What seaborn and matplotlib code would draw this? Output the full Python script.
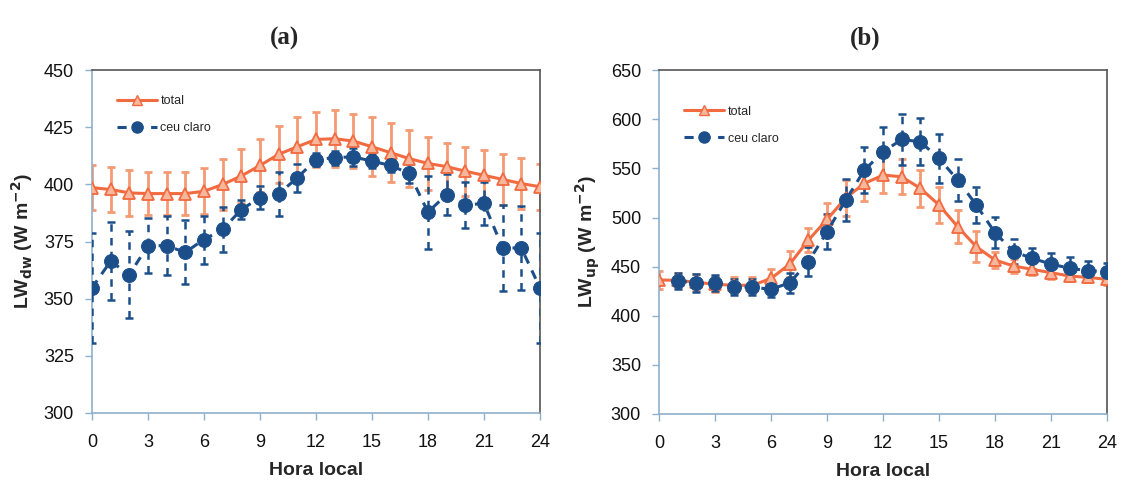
import matplotlib
matplotlib.use("Agg")
import matplotlib.pyplot as plt
import seaborn as sns
import numpy as np
import pandas as pd
from matplotlib.lines import Line2D

hours = list(range(25))

# (a) downward longwave
dw_total = [398.6, 397.8, 396.3, 396, 396, 396, 397, 400, 403.7, 408.3, 413.2, 416.5,
            419.7, 420, 419, 416.5, 413.9, 411.3, 409.2, 407.8, 405.8, 404, 402.2, 400.4, 399]
dw_total_err = [10, 10, 10, 9.5, 9.5, 9.5, 10, 11, 11.7, 11.4, 12.4, 13,
                12, 12.5, 12, 13, 13, 12.4, 11.7, 10.2, 10.7, 11, 11, 11, 10]
dw_clear = [354.7, 366.4, 360.5, 373.2, 373.2, 370.3, 375.9, 380.3, 389, 394.2, 395.9, 402.9,
            410.9, 411.7, 412.1, 410.2, 408.3, 404.8, 387.9, 395.6, 391, 391.7, 372.2, 372.2, 354.7]
dw_clear_err = [24, 17, 19, 12, 13, 14, 10.5, 10, 4, 5, 9.5, 6,
                3, 3, 4, 3, 3, 4, 16, 9, 10, 9.5, 19, 18.5, 24]

# (b) upward longwave
up_total = [436.4, 436, 434, 432, 431, 431, 438, 452.6, 477, 498.1, 520, 534.7,
            543.2, 541.5, 529.7, 512.7, 490.6, 470.2, 456.7, 450.6, 447.2, 443.8, 440.4, 439, 437]
up_total_err = [9, 8, 8, 8, 8, 8, 10, 13, 12, 17, 18, 18,
                18, 18, 19, 18, 17, 16, 8, 7, 6, 6, 5, 5, 6]
up_clear = [np.nan, 435.7, 433, 433, 429.6, 429, 426.9, 433.6, 455, 485.6, 517.8, 548.3,
            566.9, 579.5, 577.1, 560.2, 538.1, 512.7, 484.5, 465.2, 458.4, 452.6, 448.3, 445.8, 444.8]
up_clear_err = [np.nan, 8, 9, 8, 8, 8, 8, 10, 15, 18, 21, 23,
                25, 26, 24, 25, 21, 18, 16, 13, 11, 11, 11, 10, 9]

labels = ["total", "ceu claro"]
xticks = list(range(0, 25, 3))

ORANGE = "#F26A3F"
ORANGE_ERR = "#F59A73"
BLUE = "#1C4F8A"
SPINE_LIGHT = "#8DB0CC"
SPINE_DARK = "#555555"

sns.set_theme(style="white")
plt.rcParams["font.family"] = ["Liberation Sans", "DejaVu Sans"]

fig = plt.figure(figsize=(11.21, 4.91), dpi=100)
ax_a = fig.add_axes([0.082, 0.159, 0.3997, 0.698])
ax_b = fig.add_axes([0.588, 0.157, 0.3995, 0.700])


def draw_panel(ax, total, total_err, clear, clear_err, ylim, yticks, ylabel, title,
               title_x, leg_anchor):
    df = pd.DataFrame({"hora": hours * 2,
                       "valor": list(total) + list(clear),
                       "serie": [labels[0]] * 25 + [labels[1]] * 25})
    # error bars
    ax.errorbar(hours, total, yerr=total_err, fmt="none", ecolor=ORANGE_ERR,
                elinewidth=2.0, capsize=3, capthick=2.0, zorder=2)
    eb2 = ax.errorbar(hours, clear, yerr=clear_err, fmt="none", ecolor=BLUE,
                      elinewidth=1.8, capsize=3, capthick=1.8, zorder=3)
    for ln in eb2[2]:
        ln.set_linestyle((0, (3, 2.5)))
    sns.lineplot(data=df, x="hora", y="valor", hue="serie", style="serie",
                 palette={labels[0]: ORANGE, labels[1]: BLUE},
                 markers={labels[0]: "^", labels[1]: "o"},
                 dashes={labels[0]: "", labels[1]: (3, 2.5)},
                 linewidth=2.2, markersize=9, ax=ax, legend=False, zorder=4)
    # hollow triangles, filled circles
    for ln in ax.get_lines():
        if ln.get_marker() == "^":
            ln.set_markerfacecolor("#F7B79C")
            ln.set_markeredgecolor(ORANGE)
            ln.set_markeredgewidth(1.3)
            ln.set_markersize(8)
        elif ln.get_marker() == "o":
            ln.set_markerfacecolor(BLUE)
            ln.set_markeredgecolor(BLUE)
            ln.set_markersize(10)
    ax.set_xlim(0, 24)
    ax.set_ylim(*ylim)
    ax.set_xticks(xticks)
    ax.set_yticks(yticks)
    ax.tick_params(axis="both", which="major", bottom=True, left=True,
                   labelsize=13, colors=SPINE_LIGHT, labelcolor="#111111",
                   direction="out", length=5, width=1, pad=8)
    ax.tick_params(axis="x", pad=10)
    ax.set_xlabel("Hora local", fontsize=14, fontweight="bold", labelpad=8)
    ax.set_ylabel(ylabel, fontsize=14, fontweight="bold", labelpad=6)
    for side in ["left", "bottom"]:
        ax.spines[side].set_color(SPINE_LIGHT)
        ax.spines[side].set_linewidth(1.2)
    for side in ["top", "right"]:
        ax.spines[side].set_color(SPINE_DARK)
        ax.spines[side].set_linewidth(1.2)
    ax.text(title_x, 1.06, title, transform=ax.transAxes, ha="center", va="bottom",
            fontsize=18, fontweight="bold", family="Liberation Serif")
    h1 = Line2D([], [], color=ORANGE, lw=2.2, marker="^", markersize=7,
                markerfacecolor="#F7B79C", markeredgecolor=ORANGE)
    h2 = Line2D([], [], color=BLUE, lw=2.2, ls=(0, (3, 2.5)), marker="o", markersize=8,
                markerfacecolor=BLUE)
    ax.legend([h1, h2], labels, loc="upper left", bbox_to_anchor=leg_anchor,
              frameon=False, fontsize=9, handlelength=3.2, handletextpad=0.3,
              labelspacing=1.2)


draw_panel(ax_a, dw_total, dw_total_err, dw_clear, dw_clear_err, (300, 450),
           list(range(300, 451, 25)), r"LW$_{\mathbf{dw}}$ (W m$^{\mathbf{-2}}$)", "(a)",
           0.43, (0.03, 0.96))
draw_panel(ax_b, up_total, up_total_err, up_clear, up_clear_err, (300, 650),
           list(range(300, 651, 50)), r"LW$_{\mathbf{up}}$ (W m$^{\mathbf{-2}}$)", "(b)",
           0.46, (0.03, 0.93))

fig.savefig("out.png", dpi=100, facecolor="white")
